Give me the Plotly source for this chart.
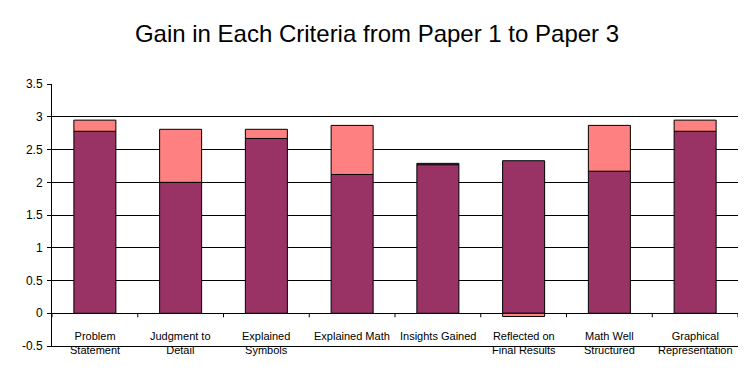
import plotly.graph_objects as go

categories = ["Problem<br>Statement", "Judgment to<br>Detail", "Explained<br>Symbols",
              "Explained Math", "Insights Gained", "Reflected on<br>Final Results",
              "Math Well<br>Structured", "Graphical<br>Representation"]
paper1 = [2.78, 2.00, 2.67, 2.12, 2.27, 2.33, 2.17, 2.78]
gain = [0.17, 0.81, 0.14, 0.75, 0.02, -0.05, 0.70, 0.17]

ytickvals = [-0.5, 0, 0.5, 1, 1.5, 2, 2.5, 3, 3.5]
yticktext = ["-0.5", "0", "0.5", "1", "1.5", "2", "2.5", "3", "3.5"]

ymin, ymax = ytickvals[0], ytickvals[-1] + 0.002

fig = go.Figure()
fig.add_trace(go.Bar(x=categories, y=paper1, marker=dict(color="#993366", line=dict(color="black", width=1)), name="Paper 1"))
fig.add_trace(go.Bar(x=categories, y=gain, marker=dict(color="#FF8080", line=dict(color="black", width=1)), name="Gain"))

# category labels hanging below the zero line
for cat in categories:
    fig.add_annotation(x=cat, y=0, xref="x", yref="y", text=cat, showarrow=False,
                       yanchor="top", yshift=-15, font=dict(size=11, color="black"))

# small tick marks at category boundaries on the zero line
for i in range(len(categories) + 1):
    fig.add_shape(type="line", xref="x", yref="y", x0=i - 0.5, x1=i - 0.5,
                  ysizemode="pixel", yanchor=0, y0=0, y1=-4,
                  line=dict(color="black", width=1))

fig.update_layout(
    width=754, height=376,
    barmode="relative", bargap=0.51,
    showlegend=False,
    paper_bgcolor="white", plot_bgcolor="white",
    margin=dict(l=52, r=16, t=84, b=30, autoexpand=False),
    font=dict(family="Liberation Sans, Arial, sans-serif", color="black"),
    title=dict(text="Gain in Each Criteria from Paper 1 to Paper 3", x=377/754, xanchor="center",
               y=1 - 34/376, yanchor="middle", font=dict(size=24, color="black")),
    xaxis=dict(anchor="y", showline=True, linecolor="black", linewidth=1,
               ticks="", showticklabels=False, showgrid=False, zeroline=False,
               range=[-0.5, len(categories) - 0.5], fixedrange=True),
    yaxis=dict(range=[ymin, ymax], tickvals=ytickvals, ticktext=yticktext,
               showgrid=True, gridcolor="black", gridwidth=1,
               zeroline=True, zerolinecolor="black", zerolinewidth=1,
               showline=True, linecolor="black", linewidth=1,
               ticks="outside", ticklen=4, tickcolor="black", ticklabelstandoff=2,
               tickfont=dict(size=12)),
)

fig.write_html("out.html", post_script="document.body.style.margin='0';",
               config={"displayModeBar": False})
